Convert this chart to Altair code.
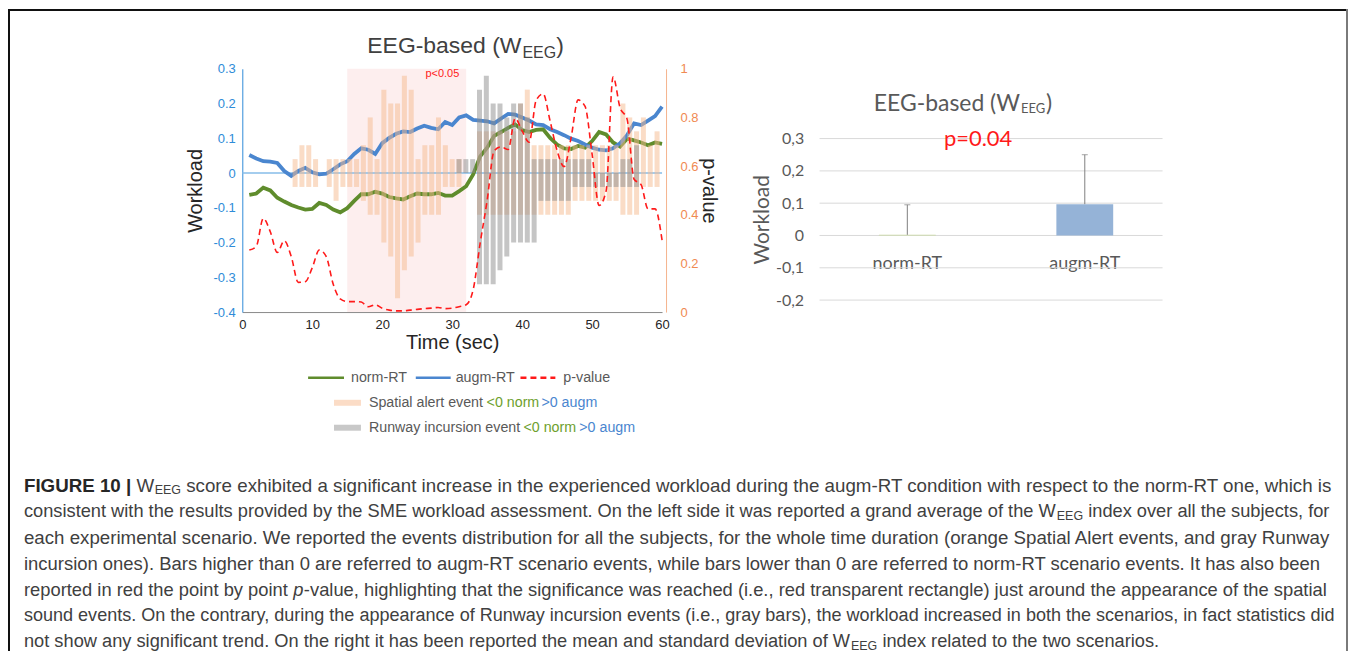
import altair as alt
import pandas as pd

# ---------------- data: left panel (grand average over time) ----------------
time_s = list(range(1, 61))
augm_rt = [0.052, 0.042, 0.034, 0.033, 0.029, 0.006, -0.008, 0.006, 0.015, 0.002,
           -0.004, -0.002, 0.011, 0.025, 0.034, 0.055, 0.071, 0.067, 0.055, 0.086,
           0.101, 0.113, 0.120, 0.118, 0.128, 0.136, 0.130, 0.126, 0.147, 0.138,
           0.160, 0.166, 0.153, 0.151, 0.149, 0.143, 0.157, 0.170, 0.168, 0.160,
           0.151, 0.140, 0.138, 0.126, 0.118, 0.109, 0.099, 0.092, 0.082, 0.073,
           0.067, 0.065, 0.071, 0.086, 0.109, 0.143, 0.138, 0.151, 0.164, 0.191]
norm_rt = [-0.063, -0.059, -0.042, -0.050, -0.071, -0.082, -0.092, -0.099, -0.105, -0.103,
           -0.086, -0.092, -0.105, -0.113, -0.101, -0.080, -0.061, -0.061, -0.054, -0.059,
           -0.069, -0.073, -0.076, -0.067, -0.059, -0.061, -0.061, -0.057, -0.065, -0.065,
           -0.052, -0.038, -0.004, 0.048, 0.073, 0.107, 0.118, 0.130, 0.140, 0.124,
           0.118, 0.124, 0.126, 0.101, 0.082, 0.071, 0.069, 0.078, 0.073, 0.092,
           0.118, 0.111, 0.088, 0.076, 0.099, 0.094, 0.088, 0.080, 0.088, 0.084]
p_value = [0.255, 0.270, 0.385, 0.330, 0.245, 0.293, 0.228, 0.122, 0.125, 0.182,
           0.255, 0.228, 0.114, 0.054, 0.043, 0.043, 0.041, 0.022, 0.030, 0.016,
           0.008, 0.005, 0.005, 0.008, 0.011, 0.014, 0.016, 0.019, 0.014, 0.016,
           0.022, 0.030, 0.092, 0.283, 0.459, 0.663, 0.679, 0.668, 0.796, 0.745,
           0.698, 0.870, 0.897, 0.785, 0.663, 0.598, 0.717, 0.872, 0.845, 0.649,
           0.438, 0.497, 0.967, 0.840, 0.793, 0.546, 0.524, 0.424, 0.424, 0.296]

spatial_t = [7, 8, 9, 10, 12, 13, 14, 15, 16, 17, 18, 19, 20, 21, 22, 23, 24, 25, 26, 27,
             28, 29, 30, 31, 34, 35, 36, 37, 38, 39, 40, 41, 42, 43, 44, 45, 46, 47, 48, 49,
             50, 51, 52, 53, 54, 55, 56, 57, 58, 59, 60]
spatial_augm = [0.04, 0.08, 0.08, 0.04, 0.04, 0.04, 0.04, 0.04, 0.04, 0.08, 0.16, 0.04, 0.24, 0.20, 0.20, 0.28, 0.24, 0.04, 0.08, 0.08,
                0.16, 0.08, 0.04, 0.04, 0.12, 0.12, 0.12, 0.12, 0.12, 0.12, 0.20, 0.24, 0.08, 0.08, 0.08, 0.08, 0.08, 0.08, 0.08, 0.08,
                0.08, 0.08, 0.08, 0.08, 0.08, 0.20, 0.16, 0.12, 0.16, 0.08, 0.12]
spatial_norm = [-0.04, -0.04, -0.04, -0.04, -0.04, -0.08, -0.04, -0.04, -0.04, -0.08, -0.12, -0.12, -0.20, -0.24, -0.36, -0.28, -0.24, -0.20, -0.12, -0.12,
                -0.12, -0.04, -0.04, -0.04, -0.12, -0.12, -0.12, -0.12, -0.12, -0.12, -0.12, -0.12, -0.12, -0.12, -0.12, -0.12, -0.12, -0.12, -0.08, -0.08,
                -0.08, -0.08, -0.08, -0.08, -0.08, -0.12, -0.12, -0.12, -0.04, -0.04, -0.04]

runway_t = [31, 32, 33, 34, 35, 36, 37, 38, 39, 40, 41, 42, 43, 44, 45, 46, 47, 48, 49, 50,
            51, 52, 53, 54, 55, 56, 57]
runway_augm = [0.04, 0.04, 0.04, 0.24, 0.28, 0.20, 0.20, 0.16, 0.20, 0.20, 0.16, 0.04, 0.04, 0.04, 0.04, 0.04, 0.04, 0.04, 0.04, 0.04,
               0.00, 0.00, 0.00, 0.00, 0.04, 0.04, 0.08]
runway_norm = [0.00, 0.00, 0.00, -0.32, -0.32, -0.32, -0.28, -0.24, -0.20, -0.20, -0.20, -0.20, -0.08, -0.08, -0.08, -0.08, -0.08, -0.04, -0.04, -0.04,
               -0.04, -0.04, -0.04, -0.04, -0.04, -0.04, -0.04]

sig_start = [15]
sig_end = [32]
left_y_ticks = [-0.4, -0.3, -0.2, -0.1, 0, 0.1, 0.2, 0.3]
p_ticks = [0, 0.2, 0.4, 0.6, 0.8, 1]
x_ticks = [0, 10, 20, 30, 40, 50, 60]

# ---------------- data: right panel (mean and SD) ----------------
conditions = ["norm-RT", "augm-RT"]
cond_mean = [0.002, 0.097]
cond_sd = [0.093, 0.153]
right_y_ticks = [-0.2, -0.1, 0, 0.1, 0.2, 0.3]

# ---------------- texts ----------------
title_main = "EEG-based (W"
title_sub = "EEG"
title_end = ")"
legend_row1 = ["norm-RT", "augm-RT", "p-value"]
legend_row2 = ["Spatial alert event", "<0 norm", ">0 augm"]
legend_row3 = ["Runway incursion event", "<0 norm", ">0 augm"]
caption = [
    [("FIGURE 10 |", "bold"), ("W", ""), ("EEG", "sub"),
     ("score exhibited a significant increase in the experienced workload during the augm-RT condition with respect to the norm-RT one, which is", "")],
    [("consistent with the results provided by the SME workload assessment. On the left side it was reported a grand average of the W", ""),
     ("EEG", "sub"), ("index over all the subjects, for", "")],
    [("each experimental scenario. We reported the events distribution for all the subjects, for the whole time duration (orange Spatial Alert events, and gray Runway", "")],
    [("incursion ones). Bars higher than 0 are referred to augm-RT scenario events, while bars lower than 0 are referred to norm-RT scenario events. It has also been", "")],
    [("reported in red the point by point", ""), ("p", "italic"),
     ("-value, highlighting that the significance was reached (i.e., red transparent rectangle) just around the appearance of the spatial", "")],
    [("sound events. On the contrary, during the appearance of Runway incursion events (i.e., gray bars), the workload increased in both the scenarios, in fact statistics did", "")],
    [("not show any significant trend. On the right it has been reported the mean and standard deviation of W", ""),
     ("EEG", "sub"), ("index related to the two scenarios.", "")],
]

# ---------------- styling / layout (pixels inside the chart) ----------------
W, H = 1344, 644
BLUE = "#4a86cf"
GREEN = "#5f8c2c"
RED = "#ff1a1a"
ORANGE_BAR = "#f6b98e"
GRAY_BAR = "#8c8c8c"
AX_BLUE = "#2f8cd8"
AX_ORANGE = "#f08a52"
TXT = "#404040"
FONT = "Liberation Sans"
XLFONT = "Lato"

# Arial / Liberation Sans advance widths (1/1000 em) to chain caption segments
_W = {" ": 278, "!": 278, "(": 333, ")": 333, ",": 278, "-": 333, ".": 278, "|": 260,
      "<": 584, ">": 584, "A": 667, "B": 667, "C": 722, "D": 722, "E": 667, "F": 611,
      "G": 778, "H": 722, "I": 278, "J": 500, "K": 667, "L": 556, "M": 833, "N": 722,
      "O": 778, "P": 667, "Q": 778, "R": 722, "S": 667, "T": 611, "U": 722, "V": 667,
      "W": 944, "X": 667, "Y": 667, "Z": 611, "a": 556, "b": 556, "c": 500, "d": 556,
      "e": 556, "f": 278, "g": 556, "h": 556, "i": 222, "j": 222, "k": 500, "l": 222,
      "m": 833, "n": 556, "o": 556, "p": 556, "q": 556, "r": 333, "s": 500, "t": 278,
      "u": 556, "v": 500, "w": 722, "x": 500, "y": 500, "z": 500}
_WB = {"|": 280}


def tw(s, size, bold=False):
    tot = 0
    for c in s:
        if bold and c in _WB:
            tot += _WB[c]
        elif c.isdigit():
            tot += 556
        else:
            tot += _W.get(c, 556)
    return tot * size / 1000.0


xs = alt.Scale(domain=[0, 60], range=[235, 656], nice=False, zero=False)
ys = alt.Scale(domain=[-0.4, 0.3], range=[304, 60], nice=False, zero=False)
ps = alt.Scale(domain=[0, 1], range=[304, 60], nice=False, zero=False)
rxs = alt.Scale(domain=conditions, range=[813, 1169], paddingInner=0, paddingOuter=0)
rys = alt.Scale(domain=[-0.2, 0.3], range=[292, 130], nice=False, zero=False)

series = pd.DataFrame({"t": time_s, "augm": augm_rt, "norm": norm_rt, "p": p_value})
spatial = pd.DataFrame({"t": spatial_t, "up": spatial_augm, "down": spatial_norm})
runway = pd.DataFrame({"t": runway_t, "up": runway_augm, "down": runway_norm})
sig = pd.DataFrame({"start": sig_start, "end": sig_end, "top": [0.3], "bottom": [-0.4]})
zero_df = pd.DataFrame({"t0": [0], "t1": [60], "w": [0]})
bars = pd.DataFrame({"cond": conditions, "mean": cond_mean, "sd": cond_sd})
grid_df = pd.DataFrame({"v": right_y_ticks})

layers = []

# significance window
layers.append(alt.Chart(sig).mark_rect(color="#fdeeee").encode(
    x=alt.X("start:Q", scale=xs, axis=None), x2="end:Q",
    y=alt.Y("top:Q", scale=ys, axis=None), y2="bottom:Q"))

# zero line
layers.append(alt.Chart(zero_df).mark_rule(color="#86bde8", strokeWidth=1.5).encode(
    x=alt.X("t0:Q", scale=xs, axis=None), x2="t1:Q",
    y=alt.Y("w:Q", scale=ys, axis=None)))

# norm-RT line (carries the left and bottom axes)
layers.append(alt.Chart(series).mark_line(color=GREEN, strokeWidth=3.8).encode(
    x=alt.X("t:Q", scale=xs, axis=alt.Axis(
        values=x_ticks, orient="bottom", offset=304 - H, grid=False, ticks=False,
        labelPadding=6, labelFontSize=13, labelFont=FONT, labelColor="#262626",
        labelFlush=False, domainColor="#8a8a8a", title="Time (sec)", titleFont=FONT,
        titleFontSize=20, titleFontWeight="normal", titleColor="#262626", titlePadding=2)),
    y=alt.Y("norm:Q", scale=ys, axis=alt.Axis(
        values=left_y_ticks, orient="left", offset=-235, grid=False, ticks=False,
        labelPadding=7, labelFontSize=13, labelFont=FONT, labelColor=AX_BLUE,
        labelExpr="datum.value == 0 ? '0' : replace(format(datum.value, '.1f'), '\u2212', '-')",
        domainColor=AX_BLUE, title="Workload", titleFont=FONT, titleFontSize=20,
        titleFontWeight="normal", titleColor="#262626", titlePadding=8))))

# augm-RT line
layers.append(alt.Chart(series).mark_line(color=BLUE, strokeWidth=3.8).encode(
    x=alt.X("t:Q", scale=xs, axis=None),
    y=alt.Y("augm:Q", scale=ys, axis=None)))

# event bars (semi-transparent, drawn over the lines)
layers.append(alt.Chart(spatial).mark_bar(color=ORANGE_BAR, opacity=0.5, width=5).encode(
    x=alt.X("t:Q", scale=xs, axis=None),
    y=alt.Y("up:Q", scale=ys, axis=None), y2="down:Q"))
layers.append(alt.Chart(runway).mark_bar(color=GRAY_BAR, opacity=0.5, width=5).encode(
    x=alt.X("t:Q", scale=xs, axis=None),
    y=alt.Y("up:Q", scale=ys, axis=None), y2="down:Q"))

# p-value (right axis)
layers.append(alt.Chart(series).mark_line(color=RED, strokeWidth=1.6, strokeDash=[6, 4],
                                          interpolate="monotone").encode(
    x=alt.X("t:Q", scale=xs, axis=None),
    y=alt.Y("p:Q", scale=ps, axis=alt.Axis(
        values=p_ticks, orient="right", offset=660 - W, grid=False, ticks=False,
        labelPadding=14, labelFontSize=13, labelFont=FONT, labelColor=AX_ORANGE,
        format="~g", domainColor="#f5b48e", title="p-value", titleFont=FONT,
        titleFontSize=20, titleFontWeight="normal", titleColor="#262626", titlePadding=1))))

# p<0.05 annotation
layers.append(alt.Chart(pd.DataFrame({"label": ["p<0.05"], "t": [28.6], "w": [0.285]}))
              .mark_text(color=RED, fontSize=11, font=FONT).encode(
    x=alt.X("t:Q", scale=xs, axis=None), y=alt.Y("w:Q", scale=ys, axis=None), text="label:N"))

# ---------- right panel ----------
layers.append(alt.Chart(grid_df).mark_rule(color="#d9d9d9", strokeWidth=1).encode(
    y=alt.Y("v:Q", scale=rys, axis=alt.Axis(
        values=right_y_ticks, orient="left", offset=-806, grid=False, ticks=False, domain=False,
        labelPadding=8, labelFontSize=16, labelFont=XLFONT, labelColor="#595959",
        labelExpr="datum.value == 0 ? '0' : replace(replace(format(datum.value, '.1f'), '.', ','), '\u2212', '-')",
        title="Workload", titleFont=XLFONT, titleFontSize=21, titleFontWeight="normal",
        titleColor="#595959", titlePadding=3)),
    x=alt.value(814), x2=alt.value(1158)))

layers.append(alt.Chart(bars).mark_bar(size=57).encode(
    x=alt.X("cond:N", scale=rxs, sort=conditions, axis=alt.Axis(
        orient="bottom", offset=228 - H, domain=False, ticks=False, labelAngle=0,
        labelPadding=18, labelFontSize=18, labelFont=XLFONT, labelColor="#595959", title=None)),
    y=alt.Y("mean:Q", scale=rys, axis=None), y2=alt.datum(0),
    color=alt.Color("cond:N", scale=alt.Scale(domain=conditions, range=["#c9dba0", "#95b3d7"]),
                    legend=None)))

err = alt.Chart(bars).transform_calculate(upper="datum.mean + datum.sd")
layers.append(err.mark_rule(color="#7f7f7f", strokeWidth=1).encode(
    x=alt.X("cond:N", scale=rxs, sort=conditions, axis=None),
    y=alt.Y("mean:Q", scale=rys, axis=None), y2="upper:Q"))
layers.append(err.mark_tick(color="#7f7f7f", thickness=1, size=6, orient="horizontal").encode(
    x=alt.X("cond:N", scale=rxs, sort=conditions, axis=None),
    y=alt.Y("upper:Q", scale=rys, axis=None)))


# ---------- free texts (titles, legend, caption) ----------
def text(label, x, y, size, color=TXT, font=FONT, weight="normal", style="normal", align="left"):
    return alt.Chart(pd.DataFrame({"label": [label]})).mark_text(
        align=align, baseline="middle", fontSize=size, font=font, color=color,
        fontWeight=weight, fontStyle=style).encode(
        text="label:N", x=alt.value(x), y=alt.value(y))


def swatch_line(name, x1, x2, y, color, dash=None, width=2.5):
    kw = dict(color=color, strokeWidth=width)
    if dash:
        kw["strokeDash"] = dash
    return alt.Chart(pd.DataFrame({"series": [name]})).mark_rule(**kw).encode(
        x=alt.value(x1), x2=alt.value(x2), y=alt.value(y))


def swatch_box(name, x1, x2, y1, y2, color):
    return alt.Chart(pd.DataFrame({"series": [name]})).mark_rect(color=color).encode(
        x=alt.value(x1), x2=alt.value(x2), y=alt.value(y1), y2=alt.value(y2))


# left title
layers.append(text(title_main, 515, 37, 23, align="right"))
layers.append(text(title_sub, 516, 44, 16))
layers.append(text(title_end, 550, 37, 23))
# right title
layers.append(text(title_main, 1015, 95, 23, color="#595959", font=XLFONT, align="right"))
layers.append(text(title_sub, 1016, 100, 13, color="#595959", font=XLFONT))
layers.append(text(title_end, 1041, 95, 23, color="#595959", font=XLFONT))
layers.append(text("p=0.04", 973, 130, 22, color=RED, font=XLFONT, align="center"))

# legend
LEG = 14.3
layers.append(swatch_line(legend_row1[0], 301, 337, 370, GREEN))
layers.append(text(legend_row1[0], 344, 370, LEG, color="#595959"))
layers.append(swatch_line(legend_row1[1], 409, 444, 370, BLUE))
layers.append(text(legend_row1[1], 449, 370, LEG, color="#595959"))
layers.append(swatch_line(legend_row1[2], 514, 549, 370, RED, dash=[6, 4]))
layers.append(text(legend_row1[2], 557, 370, LEG, color="#595959"))
layers.append(swatch_box(legend_row2[0], 327, 354, 392, 398, "#fbdcc6"))
layers.append(text(legend_row2[0], 362, 395, LEG, color="#595959"))
layers.append(text(legend_row2[1], 480, 395, LEG, color="#6e9f2e"))
layers.append(text(legend_row2[2], 535, 395, LEG, color=BLUE))
layers.append(swatch_box(legend_row3[0], 327, 354, 417, 423, "#c8c8c8"))
layers.append(text(legend_row3[0], 362, 420, LEG, color="#595959"))
layers.append(text(legend_row3[1], 517, 420, LEG, color="#6e9f2e"))
layers.append(text(legend_row3[2], 573, 420, LEG, color=BLUE))

# caption: segments chained one after the other from the left margin
line_y = [478 + 26.1 * i for i in range(7)]
line_size = [18.8, 18.3, 18.75, 18.5, 18.4, 18.1, 18.3]
SUB = 12.5
for row, segs in enumerate(caption):
    size = line_size[row]
    cx = 16.0
    prev = None
    for seg, kind in segs:
        if prev is not None:
            if kind == "sub" or prev == "italic":
                cx += 0.5
            else:
                cx += tw(" ", size)
        if kind == "bold":
            layers.append(text(seg, cx, line_y[row], size, color="#262626", weight="bold"))
            cx += tw(seg, size, bold=True)
        elif kind == "sub":
            layers.append(text(seg, cx, line_y[row] + 4, SUB, color="#404040"))
            cx += tw(seg, SUB)
        elif kind == "italic":
            layers.append(text(seg, cx, line_y[row], size, color="#404040", style="italic"))
            cx += tw(seg, size)
        else:
            layers.append(text(seg, cx, line_y[row], size, color="#404040"))
            cx += tw(seg, size)
        prev = kind

# frame around the figure
frame = pd.DataFrame({"series": ["frame"]})
layers.append(alt.Chart(frame).mark_rule(color="#111111", strokeWidth=2).encode(
    x=alt.value(0), x2=alt.value(W), y=alt.value(1)))
layers.append(alt.Chart(frame).mark_rule(color="#111111", strokeWidth=2).encode(
    x=alt.value(1), y=alt.value(0), y2=alt.value(H)))
layers.append(alt.Chart(frame).mark_rule(color="#7a7a7a", strokeWidth=2).encode(
    x=alt.value(W - 1), y=alt.value(0), y2=alt.value(H)))

chart = alt.layer(*layers).resolve_scale(x="independent", y="independent").properties(
    width=W, height=H, padding=0, autosize=alt.AutoSizeParams(type="none")
).configure_view(stroke=None)

chart.save("out.html", embed_options={"renderer": "svg", "actions": False})
